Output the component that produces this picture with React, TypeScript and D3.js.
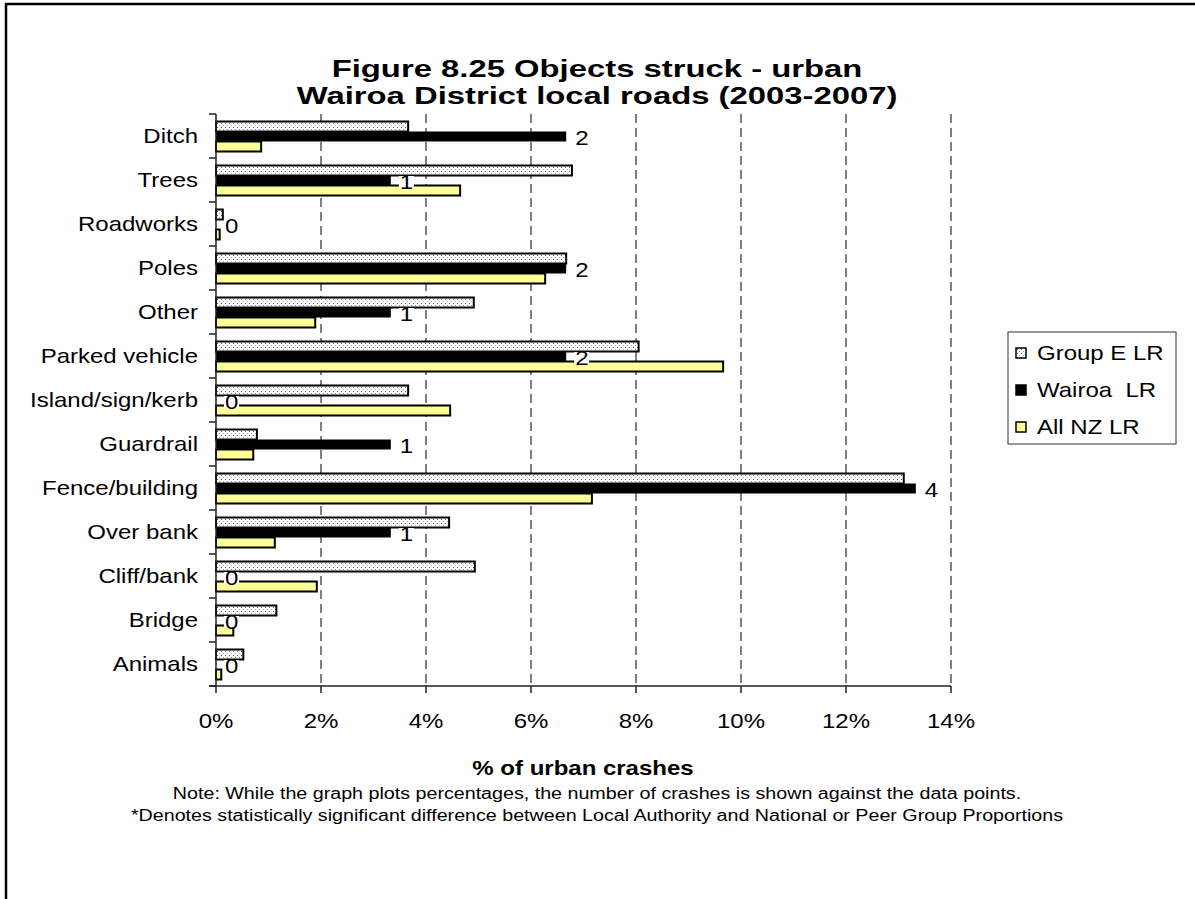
import React from "react";
import * as d3 from "d3";

const categories = ["Ditch", "Trees", "Roadworks", "Poles", "Other", "Parked vehicle", "Island/sign/kerb", "Guardrail", "Fence/building", "Over bank", "Cliff/bank", "Bridge", "Animals"];
const groupE = [3.66, 6.78, 0.13, 6.67, 4.91, 8.05, 3.66, 0.78, 13.1, 4.44, 4.93, 1.15, 0.52];
const wairoa = [6.67, 3.33, 0, 6.67, 3.33, 6.67, 0, 3.33, 13.33, 3.33, 0, 0, 0];
const allNZ = [0.86, 4.65, 0.07, 6.27, 1.89, 9.66, 4.46, 0.71, 7.16, 1.12, 1.92, 0.33, 0.1];
const counts = [2, 1, 0, 2, 1, 2, 0, 1, 4, 1, 0, 0, 0];
const seriesNames = ["Group E LR", "Wairoa\u00A0 LR", "All NZ LR"];
const xTicks = [0, 2, 4, 6, 8, 10, 12, 14];
const titleLines = ["Figure 8.25 Objects struck - urban", "Wairoa District local roads (2003-2007)"];
const axisTitle = "% of urban crashes";
const notes = [
  "Note: While the graph plots percentages, the number of crashes is shown against the data points.",
  "*Denotes statistically significant difference between Local Authority and National or Peer Group Proportions",
];

const FONT = "'Liberation Sans', Arial, sans-serif";

function T({ x, y, size, bold, anchor, sx, children }: any) {
  return (
    <text
      transform={`translate(${x},${y}) scale(${sx ?? 1.2},1)`}
      fontSize={size}
      fontWeight={bold ? "bold" : "normal"}
      textAnchor={anchor || "start"}
      fontFamily={FONT}
      fill="#000"
    >
      {children}
    </text>
  );
}

export default function App() {
  const x = d3.scaleLinear().domain([0, 14]).range([216, 951]);
  const y = d3.scaleBand<string>().domain(categories).range([114, 686]).padding(0);
  const inner = d3.scaleBand<string>().domain(seriesNames).range([7.5, 37.5]).padding(0);
  const fills = ["url(#dots)", "#000", "#FFFF99"];
  const data = [groupE, wairoa, allNZ];
  const bw = inner.bandwidth();
  const boundaries = d3.range(categories.length + 1).map((i) => 114 + i * y.step());

  return (
    <svg width={1195} height={899} style={{ position: "absolute", left: 0, top: 0, background: "#fff" }}>
      <defs>
        <pattern id="dots" width={4} height={4} patternUnits="userSpaceOnUse">
          <rect width={4} height={4} fill="#fff" />
          <rect x={1} y={1} width={1} height={1} fill="#555" />
          <rect x={3} y={3} width={1} height={1} fill="#999" />
        </pattern>
      </defs>
      <rect x={6} y={4} width={1400} height={1200} fill="none" stroke="#000" strokeWidth={2.5} />

      {titleLines.map((t, i) => (
        <T key={i} x={597} y={77 + i * 27} size={24.5} bold anchor="middle" sx={1.34}>{t}</T>
      ))}

      {/* gridlines */}
      {xTicks.slice(1).map((t) => (
        <line key={t} x1={x(t)} x2={x(t)} y1={114} y2={686} stroke="#000" strokeWidth={1} strokeDasharray="9,5" />
      ))}

      {/* bars */}
      {categories.map((c, ci) => (
        <g key={c} transform={`translate(0,${y(c)})`}>
          {seriesNames.map((s, si) => {
            const v = data[si][ci];
            if (si === 1 && v === 0) return null;
            return (
              <rect
                key={s}
                x={x(0)}
                y={inner(s)}
                width={Math.max(0, x(v) - x(0))}
                height={bw}
                fill={fills[si]}
                stroke="#000"
                strokeWidth={si === 1 ? 0 : 2}
              />
            );
          })}
        </g>
      ))}

      {/* axes */}
      <line x1={216} x2={216} y1={114} y2={686} stroke="#222" strokeWidth={1.5} />
      {boundaries.map((b, i) => (
        <line key={i} x1={209} x2={216} y1={b} y2={b} stroke="#222" strokeWidth={1.5} />
      ))}
      <line x1={209} x2={951} y1={686} y2={686} stroke="#222" strokeWidth={1.5} />
      {xTicks.map((t) => (
        <line key={t} x1={x(t)} x2={x(t)} y1={686} y2={693} stroke="#222" strokeWidth={1.5} />
      ))}

      {/* labels */}
      {categories.map((c) => (
        <T key={c} x={198} y={(y(c) as number) + y.bandwidth() / 2 + 7} size={20} anchor="end">{c}</T>
      ))}
      {xTicks.map((t) => (
        <T key={t} x={x(t)} y={728} size={20} anchor="middle">{`${t}%`}</T>
      ))}

      {/* data labels */}
      {categories.map((c, ci) => {
        const lx = x(wairoa[ci]) + 9;
        const by = (y(c) as number) + (inner(seriesNames[1]) as number);
        return (
          <g key={c}>
            <rect x={lx - 1} y={by + 0.5} width={15} height={bw + 1.5} fill="#fff" />
            <T x={lx} y={by + bw / 2 + 8} size={20}>{String(counts[ci])}</T>
          </g>
        );
      })}

      <T x={583} y={775} size={20} bold anchor="middle" sx={1.2}>{axisTitle}</T>
      {notes.map((n, i) => (
        <T key={i} x={597} y={799 + i * 22} size={16} anchor="middle" sx={1.23}>{n}</T>
      ))}

      {/* legend */}
      <rect x={1008} y={332} width={168} height={112} fill="#fff" stroke="#333" strokeWidth={1} />
      {seriesNames.map((s, i) => (
        <g key={s}>
          <rect x={1016} y={348 + i * 37} width={10} height={10} fill={fills[i]} stroke="#000" strokeWidth={1.5} />
          <T x={1037} y={360 + i * 37} size={20}>{s}</T>
        </g>
      ))}
    </svg>
  );
}
